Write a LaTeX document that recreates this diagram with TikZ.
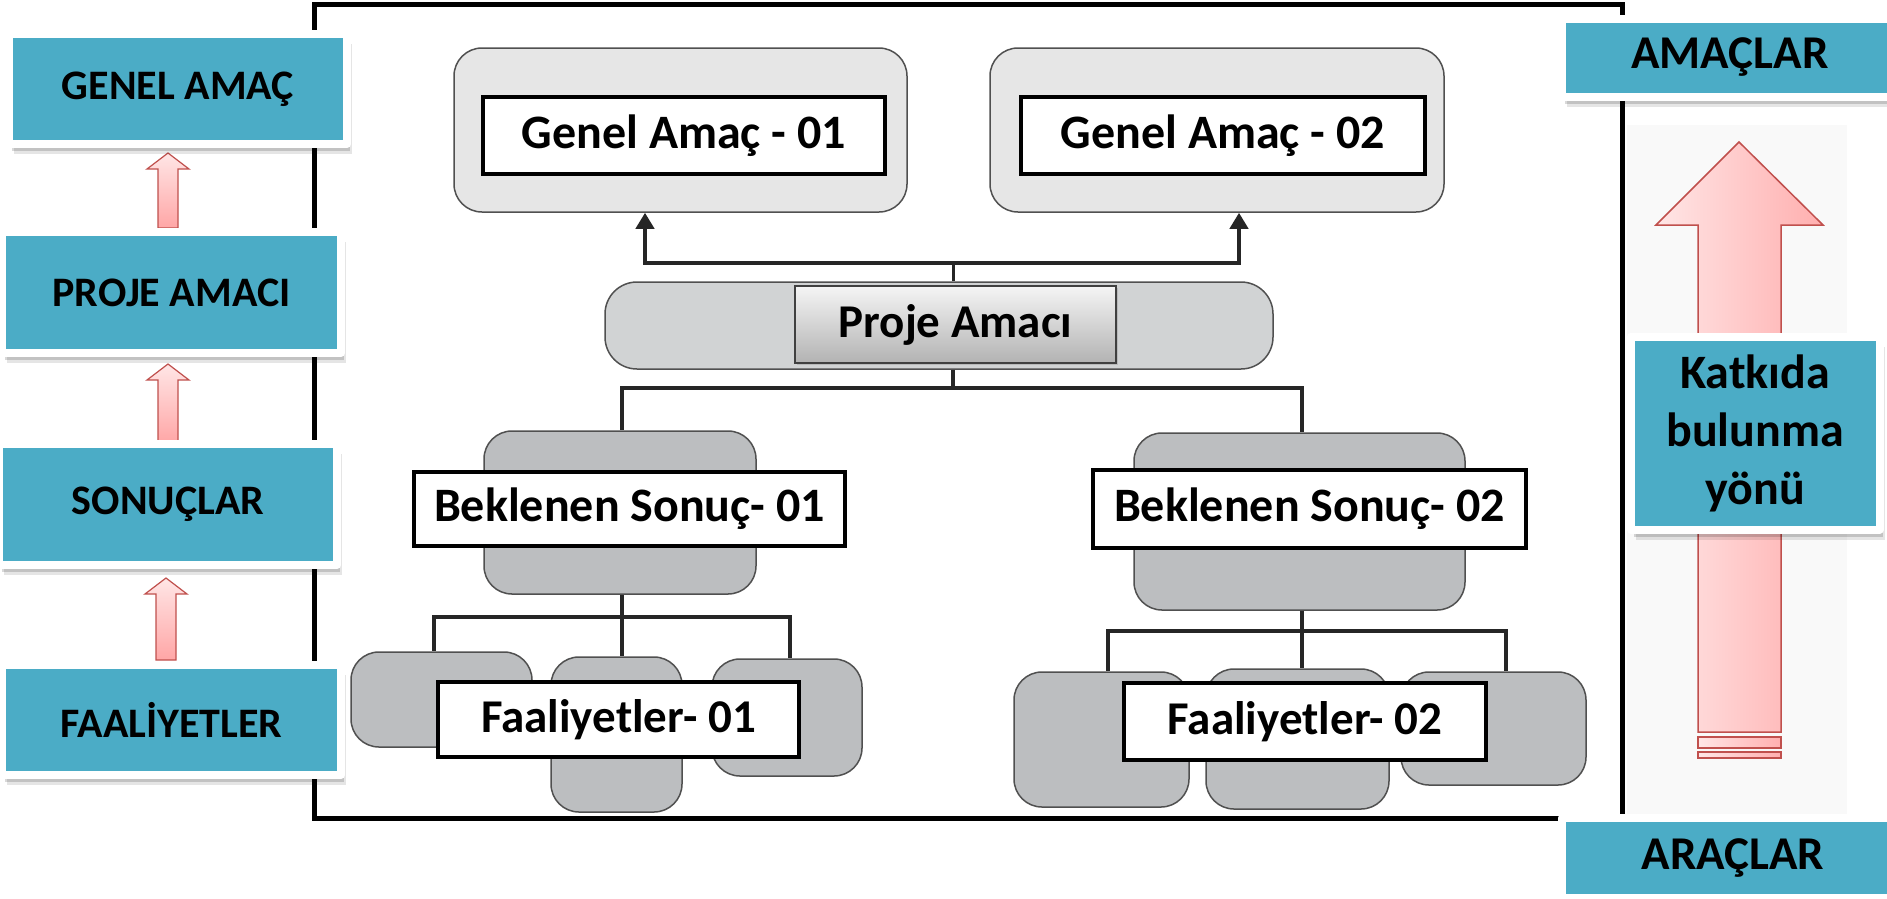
\documentclass[tikz,border=0pt]{standalone}
\usepackage{fontspec}
\setmainfont{Carlito}
\usetikzlibrary{arrows.meta,shadows}
\definecolor{tealbox}{HTML}{4BACC6}
\definecolor{arrowred}{HTML}{C0504D}
\definecolor{pinklight}{HTML}{FFE6E6}
\definecolor{pinkdark}{HTML}{FFA6A6}
\definecolor{gaouter}{HTML}{E6E6E6}
\definecolor{paouter}{HTML}{D1D3D4}
\definecolor{grayboxfill}{HTML}{BCBEC0}
\definecolor{boxline}{HTML}{505050}
\newcommand{\blockup}[4]{% x, tip y, head base y, bottom y
  \draw[smarrow] (#1-21,#3) -- (#1,#2) -- (#1+21,#3) -- (#1+10,#3) -- (#1+10,#4) -- (#1-10,#4) -- (#1-10,#3) -- cycle;}
\begin{document}
\begin{tikzpicture}[x=1pt,y=-1pt,
  lab/.style={fill=tealbox, draw=white, line width=8pt, line join=round, text=black,
    inner sep=0pt, font=\bfseries\fontsize{42}{50}\selectfont,
    drop shadow={shadow xshift=5pt, shadow yshift=-10pt, opacity=0.10, fill=black},
    drop shadow={shadow xshift=3pt, shadow yshift=-7pt, opacity=0.15, fill=black}},
  rlab/.style={lab, font=\bfseries\fontsize{47}{56}\selectfont},
  gouter/.style={draw=boxline, line width=1.5pt, rounded corners=28pt, inner sep=0pt},
  gbox/.style={gouter, fill=grayboxfill},
  wbox/.style={fill=white, draw=black, line width=4.5pt, inner sep=0pt,
    font=\bfseries\fontsize{48}{56}\selectfont},
  thickc/.style={draw=black!85, line width=4.5pt, -{Triangle[width=18pt,length=16pt]}},
  linec/.style={draw=black!85, line width=4pt},
  stubc/.style={draw=black!85, line width=3pt},
  smarrow/.style={draw=arrowred, line width=1.2pt, top color=pinklight, bottom color=pinkdark},
  bigarrow/.style={draw=arrowred, line width=1.5pt, left color=pinklight, right color=pinkdark!90!white}
]
\useasboundingbox (0,0) rectangle (1887,898);
\clip (0,0) rectangle (1887,898);
\fill[white] (0,0) rectangle (1887,898);

% faint background behind the big arrow
\fill[black!2.5] (1627,125) rectangle (1847,815);

% big frame
\draw[line width=5pt] (314,4) rectangle (1622,818);

% ---- top level: general aims
\node[gouter, fill=gaouter, minimum width=453pt, minimum height=164pt] (ga1o) at (680.5,130) {};
\node[gouter, fill=gaouter, minimum width=454pt, minimum height=164pt] (ga2o) at (1217,130) {};
\node[wbox, minimum width=402pt, minimum height=77pt] (ga1) at (684,135.5) {Genel Amaç - 01};
\node[wbox, minimum width=404pt, minimum height=77pt] (ga2) at (1223,135.5) {Genel Amaç - 02};

% ---- project aim
\node[gouter, fill=paouter, rounded corners=32pt, minimum width=668pt, minimum height=87pt] (pao) at (939,325.5) {};
\node[draw=black!75, line width=1.5pt, top color=black!4, bottom color=black!30, inner sep=0pt,
  minimum width=321pt, minimum height=77pt, font=\bfseries\fontsize{47}{54}\selectfont,
  drop shadow={shadow xshift=2pt, shadow yshift=-2pt, opacity=0.3}] (pa) at (955.5,324.5) {Proje Amacı};

\coordinate (jt) at (953,263);
\draw[stubc] ([xshift=14pt]pao.north) -- (jt);
\draw[thickc] (jt) -| ([xshift=-35.5pt]ga1o.south);
\draw[thickc] (jt) -| ([xshift=22pt]ga2o.south);

% ---- expected results
\node[gbox, minimum width=272pt, minimum height=163pt] (bs1o) at (620,512.5) {};
\node[gbox, minimum width=331pt, minimum height=177pt] (bs2o) at (1299.5,521.5) {};
\node[wbox, minimum width=431pt, minimum height=74pt] (bs1) at (629.5,509) {Beklenen Sonuç- 01};
\node[wbox, minimum width=433pt, minimum height=78pt] (bs2) at (1309.5,509) {Beklenen Sonuç- 02};

\coordinate (jb) at (953,388);
\draw[linec] ([xshift=14pt]pao.south) -- (jb);
\draw[linec] (jb) -| ([xshift=2pt]bs1o.north);
\draw[linec] (jb) -| ([xshift=2.5pt]bs2o.north);

% ---- activities 01
\node[gbox, minimum width=181pt, minimum height=95pt] (f1a) at (441.5,699.5) {};
\node[gbox, minimum width=131pt, minimum height=155pt] (f1b) at (616.5,734.5) {};
\node[gbox, minimum width=150pt, minimum height=117pt] (f1c) at (787,717.5) {};
\node[wbox, minimum width=361pt, minimum height=75pt, font=\bfseries\fontsize{47}{54}\selectfont] (fa1) at (618.5,719.5) {Faaliyetler- 01};

\coordinate (j1) at (622,617);
\draw[linec] ([xshift=2pt]bs1o.south) -- (j1);
\draw[linec] (j1) -| ([xshift=-7.5pt]f1a.north);
\draw[linec] (j1) -- ([xshift=5.5pt]f1b.north);
\draw[linec] (j1) -| ([xshift=3pt]f1c.north);

% ---- activities 02
\node[gbox, minimum width=175pt, minimum height=135pt] (f2a) at (1101.5,739.5) {};
\node[gbox, minimum width=183pt, minimum height=140pt] (f2b) at (1297.5,739) {};
\node[gbox, minimum width=185pt, minimum height=113pt] (f2c) at (1493.5,728.5) {};
\node[wbox, minimum width=362pt, minimum height=77pt, font=\bfseries\fontsize{47}{54}\selectfont] (fa2) at (1305,721.5) {Faaliyetler- 02};

\coordinate (j2) at (1302,631);
\draw[linec] ([xshift=2.5pt]bs2o.south) -- (j2);
\draw[linec] (j2) -| ([xshift=6.5pt]f2a.north);
\draw[linec] (j2) -- ([xshift=4.5pt]f2b.north);
\draw[linec] (j2) -| ([xshift=12.5pt]f2c.north);

% ---- left column labels
\blockup{168}{153}{169}{228}
\blockup{168}{364}{380}{443}
\blockup{166}{578}{594}{660}
\node[lab, minimum width=338pt, minimum height=110pt] (lga) at (178,89) {GENEL AMAÇ};
\node[lab, minimum width=339pt, minimum height=121pt] (lpa) at (171.5,292.5) {PROJE AMACI};
\node[lab, minimum width=338pt, minimum height=121pt] (lso) at (168,504.5) {SONUÇLAR};
\node[lab, minimum width=339pt, minimum height=110pt] (lfa) at (171.5,720) {FAALİYETLER};

% ---- right column
\draw[bigarrow] (1656,225) -- (1739,142) -- (1823,225) -- (1781,225) -- (1781,732) -- (1698,732) -- (1698,225) -- cycle;
\draw[bigarrow] (1698,737) rectangle (1781,748);
\draw[bigarrow] (1698,752) rectangle (1781,758);

\node[rlab, minimum width=336pt, minimum height=78pt] (ram) at (1730,57.5) {AMAÇLAR};
\node[lab, align=center, font=\bfseries\fontsize{48}{58}\selectfont,
  minimum width=249pt, minimum height=193pt] (rkb) at (1755,433) {Katkıda\\bulunma\\yönü};
\node[rlab, minimum width=342pt, minimum height=80pt] (rar) at (1733,858) {ARAÇLAR};
\end{tikzpicture}
\end{document}
